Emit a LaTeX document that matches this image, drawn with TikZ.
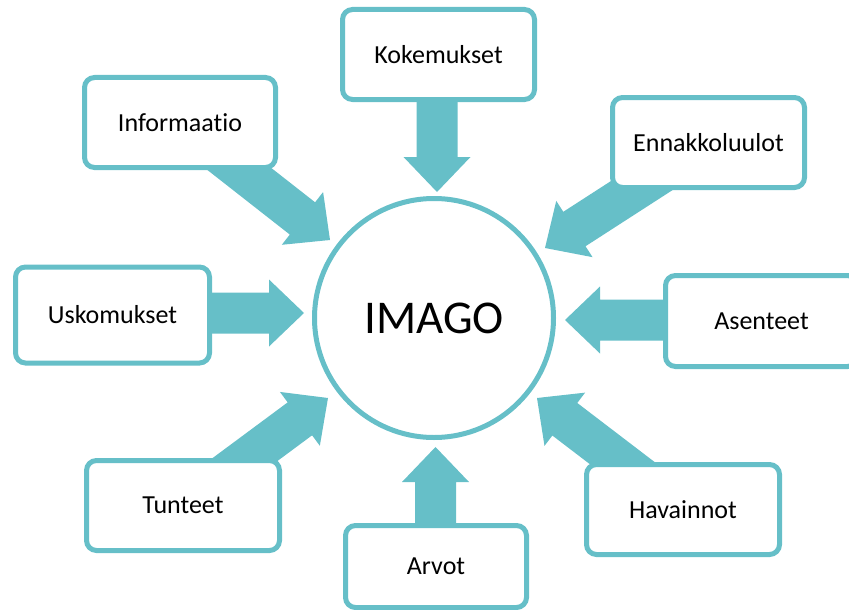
\documentclass[tikz,border=0pt]{standalone}
\usepackage{fontspec}
\setmainfont{Carlito}[Ligatures={NoCommon}]
\usetikzlibrary{calc,backgrounds}
\definecolor{tealline}{HTML}{66BFC8}
\tikzset{
  box/.style={draw=tealline, line width=5pt, fill=white, rounded corners=10pt,
    font=\fontsize{26}{30}\selectfont, text=black, inner sep=0pt},
  hub/.style={circle, draw=tealline, line width=5pt, fill=white, minimum size=239pt,
    inner sep=0pt, font=\fontsize{47}{56}\selectfont, text=black},
  blockarrow/.style={fill=tealline, draw=none}
}
% #1 = start (inside a box), #2 = tip
\newcommand\myblockarrow[2]{%
  \fill[blockarrow] (#2)
    -- ($(#2)!35pt!(#1)!33.5pt!90:(#1)$)
    -- ($(#2)!35pt!(#1)!20.5pt!90:(#1)$)
    -- ($(#1)!20.5pt!-90:(#2)$)
    -- ($(#1)!20.5pt!90:(#2)$)
    -- ($(#2)!35pt!(#1)!20.5pt!-90:(#1)$)
    -- ($(#2)!35pt!(#1)!33.5pt!-90:(#1)$)
    -- cycle;%
}
\begin{document}
\begin{tikzpicture}[x=1pt, y=-1pt]
\useasboundingbox (0,0) rectangle (849,610);
\clip (0,0) rectangle (849,610);
% hub
\node[hub] (imago) at (434,318) {IMAGO};
% boxes
\node[box, minimum width=192pt, minimum height=90pt] (kok) at (438.5,54.5) {Kokemukset};
\node[box, minimum width=191pt, minimum height=90pt] (inf) at (180,122.5) {Informaatio};
\node[box, minimum width=192pt, minimum height=90pt] (enn) at (708.5,142.5) {Ennakkoluulot};
\node[box, minimum width=194pt, minimum height=96pt] (usk) at (112.5,315) {Uskomukset};
\node[box, minimum width=192pt, minimum height=91pt] (ase) at (761.5,321) {Asenteet};
\node[box, minimum width=193pt, minimum height=90pt] (tun) at (183,505.5) {Tunteet};
\node[box, minimum width=181pt, minimum height=82pt] (arv) at (436,566.5) {Arvot};
\node[box, minimum width=193pt, minimum height=90pt] (hav) at (683,509.5) {Havainnot};
% arrow tips
\coordinate (tkok) at (437,192);
\coordinate (tinf) at (330,240);
\coordinate (tenn) at (545,248);
\coordinate (tusk) at (304,313);
\coordinate (tase) at (565,320);
\coordinate (ttun) at (328,398);
\coordinate (tarv) at (435.5,447);
\coordinate (thav) at (537,398);
% arrow starts for straight arrows
\coordinate (fkok) at (tkok |- kok.center);
\coordinate (fusk) at (usk.center |- tusk);
\coordinate (fase) at (ase.center |- tase);
\coordinate (farv) at (tarv |- arv.center);
\begin{pgfonlayer}{background}
  \myblockarrow{fkok}{tkok}
  \myblockarrow{inf.center}{tinf}
  \myblockarrow{enn.center}{tenn}
  \myblockarrow{fusk}{tusk}
  \myblockarrow{fase}{tase}
  \myblockarrow{tun.center}{ttun}
  \myblockarrow{farv}{tarv}
  \myblockarrow{hav.center}{thav}
\end{pgfonlayer}
\end{tikzpicture}
\end{document}
